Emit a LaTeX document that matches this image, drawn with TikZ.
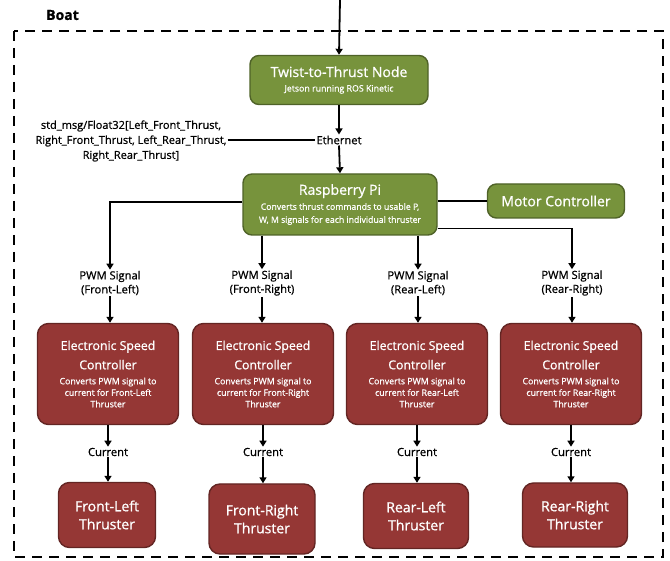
\documentclass[tikz,border=0pt]{standalone}
\usepackage{fontspec}
\setmainfont{Open Sans}[RawFeature={embolden=0.8}]
\usetikzlibrary{arrows.meta}
\definecolor{gfill}{HTML}{77933C}
\definecolor{gline}{HTML}{4F6228}
\definecolor{rfill}{HTML}{953735}
\definecolor{rline}{HTML}{632523}
\newcommand\fBig{\fontsize{14}{18}\selectfont}
\newcommand\fMid{\fontsize{12.3}{19}\selectfont}
\newcommand\fSmall{\fontsize{8.8}{11.5}\selectfont}
\newcommand\fPiSmall{\fontsize{8.7}{13}\selectfont}
\newcommand\fLab{\fontsize{11.2}{14}\selectfont}
\tikzset{
  gbox/.style={draw=gline, fill=gfill, line width=1.4pt, rounded corners=9pt, text=white, align=center, inner sep=2pt},
  rbox/.style={draw=rline, fill=rfill, line width=1.4pt, rounded corners=11pt, text=white, align=center, inner sep=2pt},
  lab/.style={font=\fLab, align=center, inner sep=1pt},
  conn/.style={line width=1.8pt},
  arr/.style={line width=1.8pt, -{Triangle[width=7pt,length=6pt]}},
}
\begin{document}
\begin{tikzpicture}[x=1pt,y=-1pt]
\useasboundingbox (0,0) rectangle (670,561);
\node[anchor=west, font=\bfseries\fontsize{14}{16}\selectfont, inner sep=0pt] (boat) at (46,15) {Boat};
\draw[line width=1.8pt, dash pattern=on 10pt off 7pt] (14,31) rectangle (663,557);
\coordinate (top) at (340,0);
\node[gbox, font=\fSmall, minimum width=178pt, minimum height=49pt] (twist) at (339,80) {\fBig Twist-to-Thrust Node\\[3pt]\fSmall Jetson running ROS Kinetic};
\node[lab] (eth) at (339,140) {Ethernet};
\node[lab, font=\fontsize{11}{15}\selectfont] (flt) at (131,141) {std\_msg/Float32[Left\_Front\_Thrust,\\Right\_Front\_Thrust, Left\_Rear\_Thrust,\\Right\_Rear\_Thrust]};
\node[gbox, font=\fPiSmall, minimum width=194pt, minimum height=61pt] (pi) at (340,204.5) {\fBig Raspberry Pi\\[2pt]\fPiSmall Converts thrust commands to usable P,\\\fPiSmall W, M signals for each individual thruster};
\node[gbox, font=\fBig, minimum width=137pt, minimum height=34pt] (motor) at (556,201) {Motor Controller};
\foreach \i/\x/\t in {1/110/Front-Left,2/262/Front-Right,3/418/Rear-Left,4/572/Rear-Right}{
  \node[lab] (pwm\i) at (\x,283) {PWM Signal\\(\t)};
}
\foreach \i/\x/\t in {1/108/Front-Left,2/263/Front-Right,3/417/Rear-Left,4/571/Rear-Right}{
  \node[rbox, font=\fSmall, minimum width=141pt, minimum height=101pt] (esc\i) at (\x,374) {\fMid Electronic Speed\\[6pt]\fMid Controller\\[3.5pt]\fSmall Converts PWM signal to\\\fSmall current for \t\\\fSmall Thruster};
  \node[lab] (cur\i) at (\x,452) {Current};
}
\tikzset{thr/.style={rbox, font=\fBig}}
\node[thr, minimum width=97pt, minimum height=65pt] (thr1) at (107,515) {Front-Left\\Thruster};
\node[thr, minimum width=106pt, minimum height=70pt] (thr2) at (262,519) {Front-Right\\Thruster};
\node[thr, minimum width=105pt, minimum height=65pt] (thr3) at (416,516) {Rear-Left\\Thruster};
\node[thr, minimum width=105pt, minimum height=64pt] (thr4) at (575,515) {Rear-Right\\Thruster};
% connectors
\draw[arr] (top) -- (twist.north);
\draw[arr] (twist.south) -- (eth.north);
\draw[arr] (eth.south) -- (pi.north);
\draw[conn] (flt.east |- eth.west) -- (eth.west);
\draw[conn] (pi.east |- motor.west) -- (motor.west);
\draw[arr] ([yshift=2.5pt]pi.west) -| (pwm1.north);
\draw[arr] (pi.south -| pwm2.north) -- (pwm2.north);
\draw[arr] (pi.south -| pwm3.north) -- (pwm3.north);
\draw[arr] ([yshift=-24pt]pi.east) -| (pwm4.north);
\foreach \i in {1,2,3,4}{
  \draw[arr] (pwm\i.south) -- (pwm\i.south |- esc\i.north);
  \draw[arr] (esc\i.south -| cur\i.north) -- (cur\i.north);
  \draw[arr] (cur\i.south) -- (cur\i.south |- thr\i.north);
}
\end{tikzpicture}
\end{document}
